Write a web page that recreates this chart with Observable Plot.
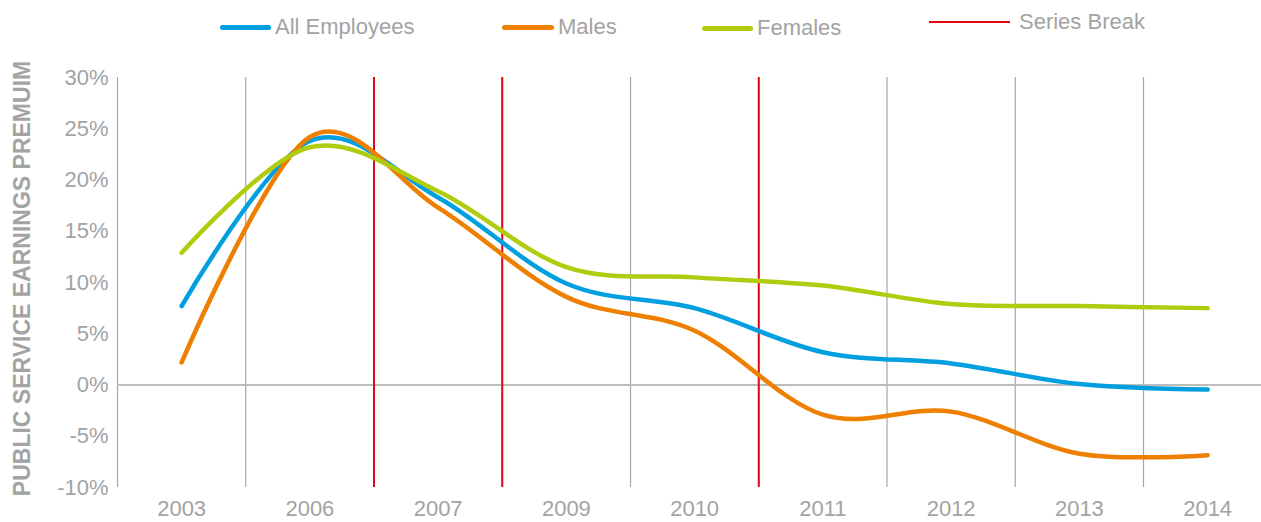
<!DOCTYPE html>
<html>
<head>
<meta charset="utf-8">
<script src="https://cdn.jsdelivr.net/npm/d3@7"></script>
<script src="https://cdn.jsdelivr.net/npm/@observablehq/plot@0.6"></script>
<style>
  body { margin: 0; background: #fff; font-family: "Liberation Sans", Arial, sans-serif; overflow: hidden; }
  #legend { position: relative; width: 1261px; height: 46px; color: #a3a3a3; font-size: 22px; }
  .item { position: absolute; display: flex; align-items: center; white-space: nowrap; }
  .sw { display: inline-block; border-radius: 3px; margin-right: 4px; }
  #chart svg { overflow: visible; display: block; }
</style>
</head>
<body>
<div id="legend"></div>
<div id="chart"></div>
<script>
const years = ["2003", "2006", "2007", "2009", "2010", "2011", "2012", "2013", "2014"];
const allEmployees = [7.7, 23.8, 18.3, 9.9, 7.5, 3.2, 2.1, 0.1, -0.45];
const males = [2.2, 24.2, 17.3, 8.6, 5.3, -2.9, -2.6, -6.7, -6.85];
const females = [12.9, 23.2, 18.9, 11.5, 10.5, 9.7, 7.9, 7.7, 7.5];
const seriesBreakAfter = ["2006", "2007", "2010"];
const yTicks = [-10, -5, 0, 5, 10, 15, 20, 25, 30];
const seriesNames = ["All Employees", "Males", "Females"];
const seriesColors = ["#009fe0", "#ee7f00", "#b1cb0f"];
const breakColor = "#e30613";
const yTitle = "PUBLIC SERVICE EARNINGS PREMUIM";

const seriesValues = [allEmployees, males, females];
const rows = seriesNames.flatMap((name, s) =>
  years.map((yr, i) => ({series: name, i, year: yr, value: seriesValues[s][i]})));
const boundaries = years.slice(0, -1).map((_, i) => i + 0.5);
const breaks = seriesBreakAfter.map(y => years.indexOf(y) + 0.5);
const xDomain = [-0.5, years.length - 0.58];

// legend
const legend = document.getElementById("legend");
const legendItems = [
  {name: seriesNames[0], color: seriesColors[0], left: 220, w: 51, h: 5, top: 14},
  {name: seriesNames[1], color: seriesColors[1], left: 502, w: 52, h: 5, top: 14},
  {name: seriesNames[2], color: seriesColors[2], left: 702, w: 51, h: 5, top: 15},
  {name: "Series Break", color: breakColor, left: 929, w: 81, h: 2.5, top: 9}
];
for (const it of legendItems) {
  const d = document.createElement("div");
  d.className = "item";
  d.style.left = it.left + "px";
  d.style.top = it.top + "px";
  const sw = document.createElement("span");
  sw.className = "sw";
  sw.style.width = it.w + "px";
  sw.style.height = it.h + "px";
  sw.style.background = it.color;
  if (it.name === "Series Break") { sw.style.borderRadius = "0"; sw.style.marginRight = "9px"; }
  d.appendChild(sw);
  const t = document.createElement("span");
  t.textContent = it.name;
  d.appendChild(t);
  legend.appendChild(d);
}

const chart = Plot.plot({
  width: 1261,
  height: 476,
  marginTop: 31,
  marginBottom: 35,
  marginLeft: 117,
  marginRight: 0,
  style: {fontFamily: "Liberation Sans, Arial, sans-serif", fontSize: "22px", color: "#a3a3a3", background: "#fff", overflow: "visible"},
  x: {type: "linear", domain: xDomain},
  y: {domain: [-10, 30]},
  color: {domain: seriesNames, range: seriesColors},
  marks: [
    Plot.ruleX(boundaries, {stroke: "#a6a6a6", strokeWidth: 1.2}),
    Plot.ruleX([xDomain[0]], {stroke: "#a6a6a6", strokeWidth: 1.2}),
    Plot.ruleY([0], {stroke: "#bdbdbd", strokeWidth: 2}),
    Plot.ruleX(breaks, {stroke: breakColor, strokeWidth: 2}),
    Plot.line(rows, {x: "i", y: "value", z: "series", stroke: "series", strokeWidth: 4.5, curve: "cardinal", strokeLinecap: "round"}),
    Plot.axisX(d3.range(years.length), {tickFormat: i => years[i], tickSize: 0, tickPadding: 13, fill: "#a3a3a3", fontSize: 22, label: null}),
    Plot.axisY(yTicks, {tickFormat: d => d + "%", tickSize: 0, tickPadding: 9, fill: "#a3a3a3", fontSize: 22, label: null}),
    Plot.text([yTitle], {frameAnchor: "left", rotate: -90, dx: -95, dy: -4, textAnchor: "middle", fill: "#a3a3a3", fontSize: 23, fontWeight: "bold", text: d => d})
  ]
});
document.getElementById("chart").appendChild(chart);
</script>
</body>
</html>
